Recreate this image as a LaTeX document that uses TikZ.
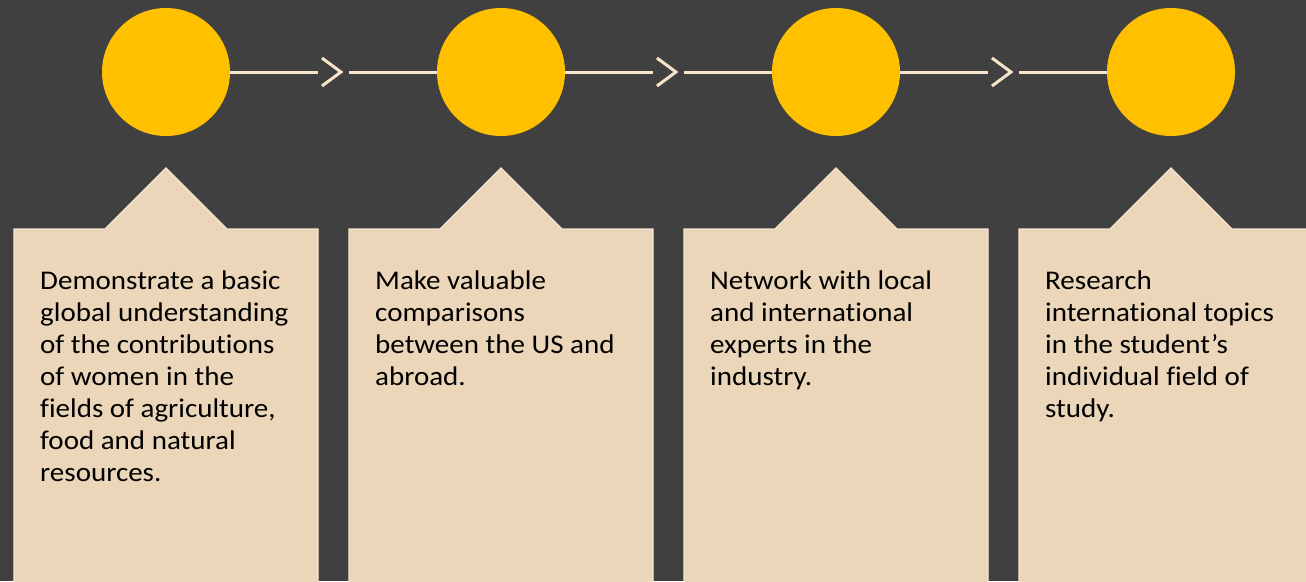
\documentclass[tikz,border=0pt]{standalone}
\usepackage{fontspec}
\setmainfont{Carlito}[Ligatures=NoCommon, FakeStretch=1.075]
\usetikzlibrary{calc}
\definecolor{bg}{HTML}{404040}
\definecolor{gold}{HTML}{FFC000}
\definecolor{tan}{HTML}{EBD6BA}
\definecolor{tanedge}{HTML}{F5E6D2}
\definecolor{linec}{HTML}{F6E4CC}
\tikzset{
  dot/.style={circle, fill=gold, minimum size=128pt, inner sep=0pt},
  conn/.style={draw=linec, line width=3pt},
  chev/.style={draw=linec, line width=3pt, line join=miter},
  card/.style={fill=tan, draw=tanedge, line width=1.2pt},
  cardtext/.style={anchor=base west, inner sep=0pt, text=black},
}
\newcommand{\cardtxt}[1]{\parbox[t]{290pt}{\fontsize{27pt}{32pt}\selectfont\raggedright #1}}
\begin{document}
\begin{tikzpicture}[x=1pt,y=-1pt]
\fill[bg] (0,0) rectangle (1306,581);
\useasboundingbox (0,0) rectangle (1306,581);
\clip (0,0) rectangle (1306,581);
\foreach \i/\x in {1/166,2/501,3/836,4/1171} {
  \node[dot] (c\i) at (\x,72) {};
  \draw[card] (\x-152,229) -- (\x-61,229) -- (\x,168) -- (\x+61,229) -- (\x+152,229) -- (\x+152,600) -- (\x-152,600) -- cycle;
}
\foreach \a/\b in {1/2,2/3,3/4} {
  \draw[conn] (c\a.east) -- ($(c\a.east)!0.425!(c\b.west)$);
  \draw[conn] ($(c\a.east)!0.575!(c\b.west)$) -- (c\b.west);
  \draw[chev] ($(c\a.east)!0.444!(c\b.west)+(0,-14)$) -- ($(c\a.east)!0.536!(c\b.west)$) -- ($(c\a.east)!0.444!(c\b.west)+(0,14)$);
}
\node[cardtext] (t1) at (40,289) {\cardtxt{Demonstrate a basic\\ global understanding\\ of the contributions\\ of women in the\\ fields of agriculture,\\ food and natural\\ resources.}};
\node[cardtext] (t2) at (375,289) {\cardtxt{Make valuable\\ comparisons\\ between the US and\\ abroad.}};
\node[cardtext] (t3) at (710,289) {\cardtxt{Network with local\\ and international\\ experts in the\\ industry.}};
\node[cardtext] (t4) at (1045,289) {\cardtxt{Research\\ international topics\\ in the student’s\\ individual field of\\ study.}};
\end{tikzpicture}
\end{document}
